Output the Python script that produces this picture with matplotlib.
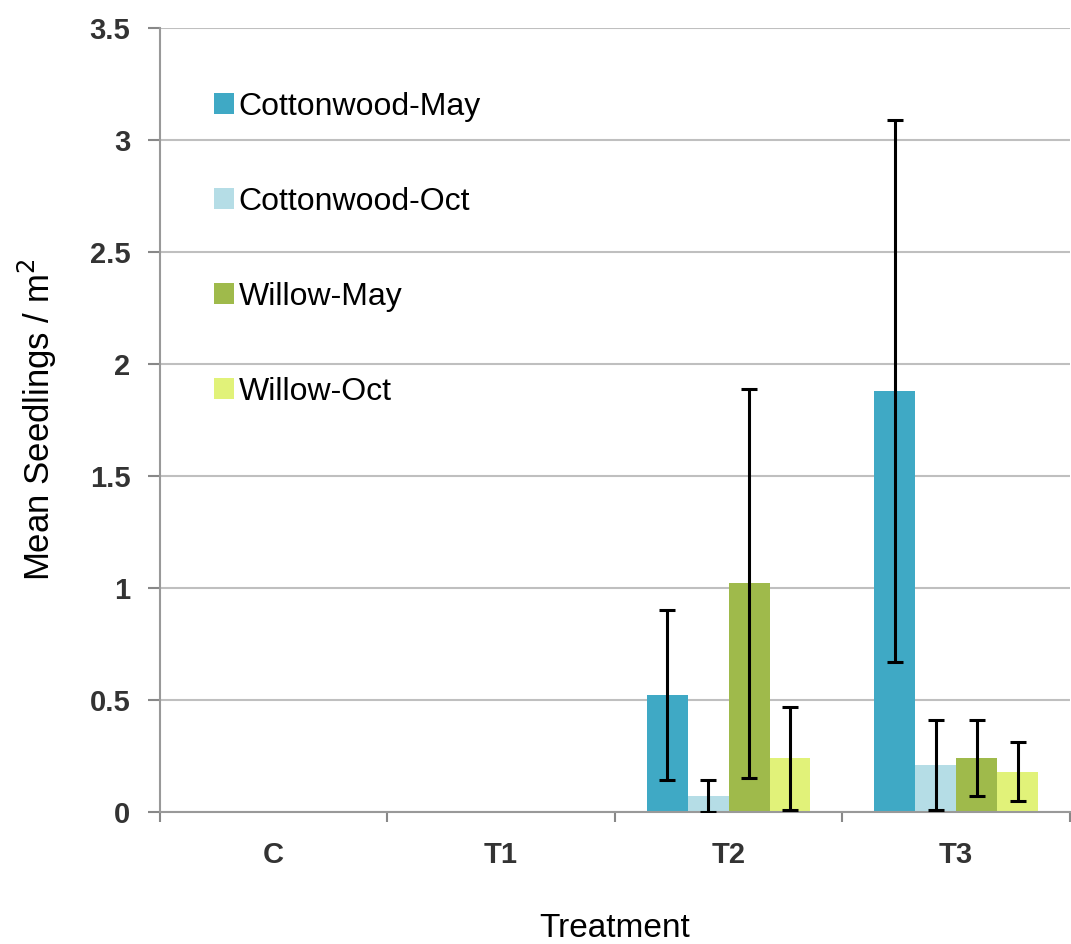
import numpy as np
import matplotlib.pyplot as plt
from matplotlib.ticker import FixedLocator

plt.rcParams['font.family'] = ['Liberation Sans', 'DejaVu Sans']

# data
treatments = ['C', 'T1', 'T2', 'T3']
series = ['Cottonwood-May', 'Cottonwood-Oct', 'Willow-May', 'Willow-Oct']
cw_may = [0, 0, 0.52, 1.88]
cw_oct = [0, 0, 0.07, 0.21]
wi_may = [0, 0, 1.02, 0.24]
wi_oct = [0, 0, 0.24, 0.18]
cw_may_err = [0, 0, 0.38, 1.21]
cw_oct_err = [0, 0, 0.07, 0.20]
wi_may_err = [0, 0, 0.87, 0.17]
wi_oct_err = [0, 0, 0.23, 0.13]
colors = ['#3FA9C5', '#B5DDE6', '#9FBA4B', '#E1F279']

values = [cw_may, cw_oct, wi_may, wi_oct]
errors = [cw_may_err, cw_oct_err, wi_may_err, wi_oct_err]

fig = plt.figure(figsize=(10.71, 9.44), dpi=100)
ax = fig.add_axes([0.149, 0.140, 0.85, 0.830])

x = np.arange(len(treatments))
w = 0.18
for i in range(4):
    pos = x + (i - 1.5) * w
    ax.bar(pos, values[i], width=w, color=colors[i], label=series[i], zorder=2)
    for p, v, e in zip(pos, values[i], errors[i]):
        if e > 0:
            ax.errorbar(p, v, yerr=e, fmt='none', ecolor='black', elinewidth=2.2,
                        capsize=5.5, capthick=2.2, zorder=3)

ax.set_xlim(-0.5, 3.5)
ax.set_ylim(0, 3.5)
ax.set_yticks(np.arange(0, 3.51, 0.5))
ax.set_yticklabels(['0', '0.5', '1', '1.5', '2', '2.5', '3', '3.5'])
ax.set_xticks(x)
ax.set_xticklabels(treatments)
ax.xaxis.set_minor_locator(FixedLocator([-0.5, 0.5, 1.5, 2.5, 3.5]))
ax.tick_params(axis='x', which='major', length=0, pad=21, labelsize=21)
ax.tick_params(axis='x', which='minor', length=7, color='#888888', width=1.5)
ax.tick_params(axis='y', length=9, color='#888888', width=1.5, labelsize=21, pad=12)
for lbl in ax.get_xticklabels() + ax.get_yticklabels():
    lbl.set_fontweight('bold')
    lbl.set_color('#333333')

ax.yaxis.grid(True, color='#BFBFBF', linewidth=1.5, zorder=0)
ax.set_axisbelow(True)
for s in ['top', 'right']:
    ax.spines[s].set_visible(False)
for s in ['left', 'bottom']:
    ax.spines[s].set_color('#999999')
    ax.spines[s].set_linewidth(1.5)

ax.set_xlabel('Treatment', fontsize=24, labelpad=32)
ax.set_ylabel('Mean Seedlings / m$^2$', fontsize=25)
ax.yaxis.set_label_coords(-0.11, 0.5)

leg = ax.legend(loc='upper left', bbox_to_anchor=(0.046, 0.935), frameon=False,
                fontsize=23, labelspacing=2.03, handlelength=0.62, handleheight=0.62,
                handletextpad=0.15, borderaxespad=0)

plt.savefig('out.png', dpi=100)
